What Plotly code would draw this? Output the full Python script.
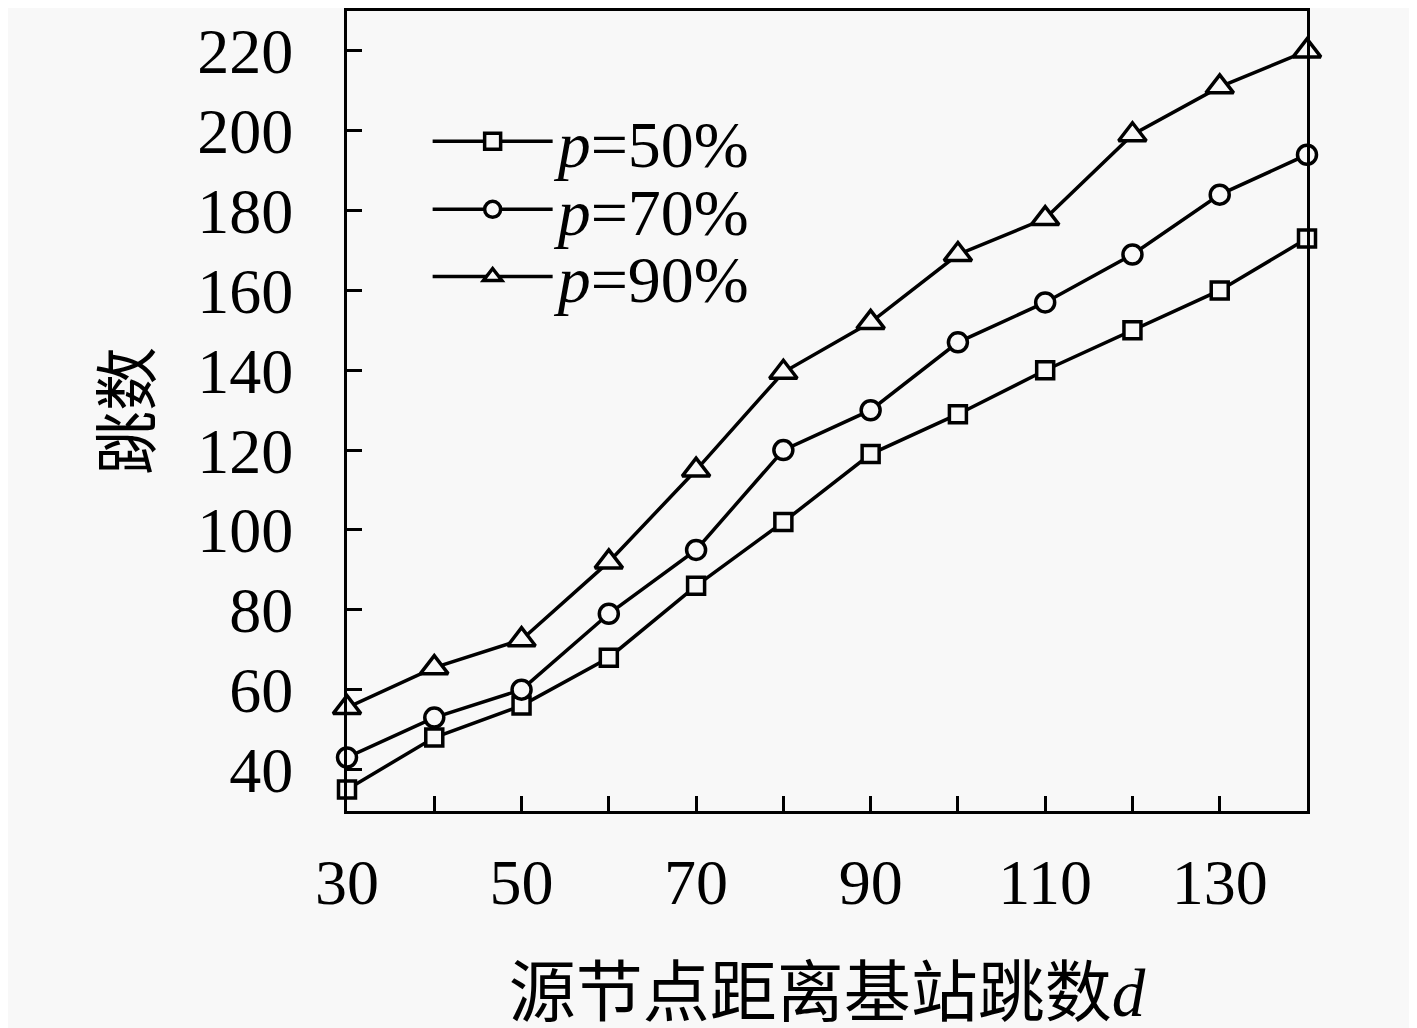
import plotly.graph_objects as go

# hop distance from source node to base station
d = [30, 40, 50, 60, 70, 80, 90, 100, 110, 120, 130, 140]

# hop counts for each p
hops_p50 = [35, 48, 56, 68, 86, 102, 119, 129, 140, 150, 160, 173]
hops_p70 = [43, 53, 60, 79, 95, 120, 130, 147, 157, 169, 184, 194]
hops_p90 = [55.5, 65.5, 72.5, 92, 115, 139.5, 152, 169, 178, 199, 211, 220]

series_names = ["<i>p</i>=50%", "<i>p</i>=70%", "<i>p</i>=90%"]
x_ticks = [30, 50, 70, 90, 110, 130]
y_ticks = [40, 60, 80, 100, 120, 140, 160, 180, 200, 220]

FONT = "Liberation Serif, Noto Sans CJK SC, serif"
BG = "#f8f8f8"

fig = go.Figure()
styles = [("square", 17), ("circle", 19), ("triangle-up", 24)]
legend_ids = ["legend", "legend2", "legend3"]
for vals, name, (sym, size), lg in zip(
        [hops_p50, hops_p70, hops_p90], series_names, styles, legend_ids):
    fig.add_trace(go.Scatter(
        x=d, y=vals, name=name, mode="lines+markers", legend=lg,
        line=dict(color="black", width=3.5),
        marker=dict(symbol=sym, size=size, color=BG,
                    line=dict(color="black", width=3.5)),
        cliponaxis=False,
    ))

# one legend box per series so the rows sit as tight as in the original
legend_style = dict(x=0.084, xanchor="left", yanchor="middle",
                    bgcolor="rgba(0,0,0,0)", font=dict(size=66),
                    itemwidth=120)
fig.update_layout(
    width=1417, height=1028,
    margin=dict(l=339, r=118, t=0, b=225),
    paper_bgcolor=BG, plot_bgcolor=BG,
    font=dict(family=FONT, size=64, color="black"),
    showlegend=True,
    legend=dict(y=0.837, **legend_style),
    legend2=dict(y=0.752, **legend_style),
    legend3=dict(y=0.668, **legend_style),
)

fig.update_xaxes(
    range=[30, 140], tickvals=x_ticks,
    ticks="inside", ticklen=15, tickwidth=3, tickcolor="black",
    minor=dict(dtick=10, tick0=30, ticks="inside", ticklen=15,
               tickwidth=3, tickcolor="black"),
    showline=True, linewidth=3, linecolor="black", mirror=True,
    showgrid=False, zeroline=False, ticklabelstandoff=13,
    title=dict(text="源节点距离基站跳数<i>d</i>", font=dict(size=67), standoff=53),
)
fig.update_yaxes(
    range=[29.6, 230], tickvals=y_ticks,
    ticks="inside", ticklen=15, tickwidth=3, tickcolor="black",
    showline=True, linewidth=3, linecolor="black", mirror=True,
    showgrid=False, zeroline=False, ticklabelstandoff=38,
    title=dict(text="跳数", font=dict(size=64), standoff=26),
)

fig.write_html("out.html")
